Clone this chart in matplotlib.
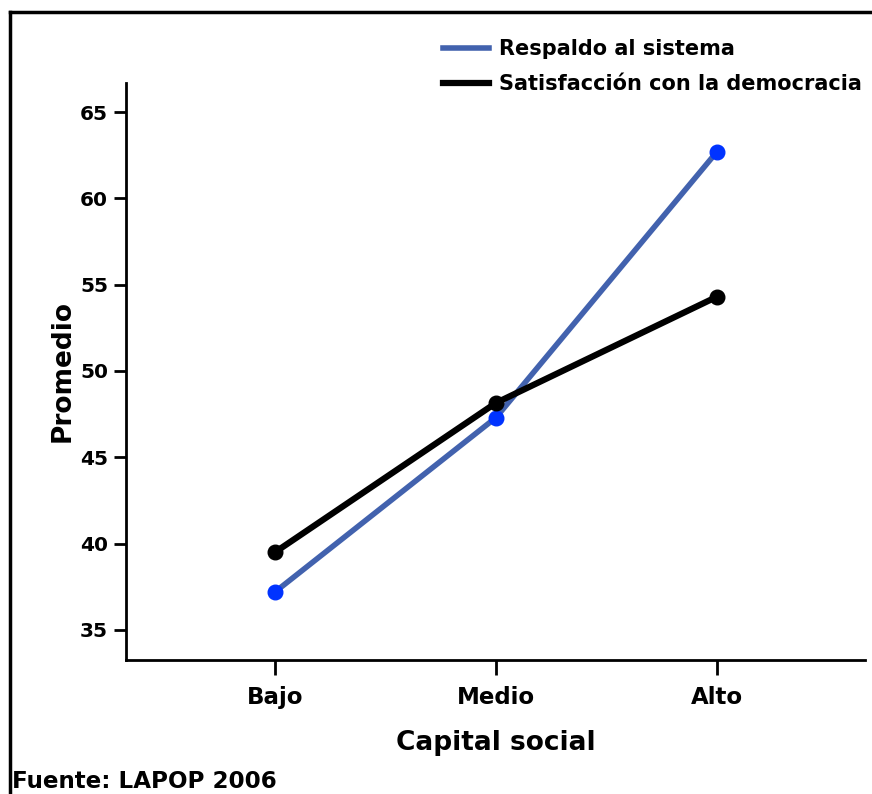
import matplotlib.pyplot as plt
from matplotlib.lines import Line2D

categorias = ['Bajo', 'Medio', 'Alto']
respaldo = [37.2, 47.3, 62.7]
satisfaccion = [39.5, 48.15, 54.3]
yticks = [35, 40, 45, 50, 55, 60, 65]

W, H = 872, 794
fig = plt.figure(figsize=(W/100, H/100), dpi=100)
plt.rcParams['font.family'] = 'DejaVu Sans'
plt.rcParams['font.weight'] = 'bold'

# axes box in pixels: left 126, right 865, top 83, bottom 660
ax = fig.add_axes([126/W, 1-660/H, (865-126)/W, (660-83)/H])

x = range(len(categorias))
ax.plot(x, respaldo, color='#4262ae', lw=4, label='Respaldo al sistema', zorder=2)
ax.plot(x, respaldo, 'o', color='#0033ff', ms=10.5, zorder=3)
ax.plot(x, satisfaccion, color='black', lw=4.5, label='Satisfacción con la democracia', zorder=4)
ax.plot(x, satisfaccion, 'o', color='black', ms=10.5, zorder=5)

ax.set_xlim(-0.674, 2.67)
ax.set_ylim(33.26, 66.68)
ax.set_xticks(list(x))
ax.set_xticklabels(categorias, fontsize=16.5, fontweight='bold')
ax.set_yticks(yticks)
ax.set_yticklabels([str(v) for v in yticks], fontsize=14.5, fontweight='bold')
ax.tick_params(axis='y', length=9, width=2, pad=4)
ax.tick_params(axis='x', length=11, width=2, pad=8)
for s in ['top', 'right']:
    ax.spines[s].set_visible(False)
for s in ['left', 'bottom']:
    ax.spines[s].set_linewidth(2)

ax.set_xlabel('Capital social', fontsize=19, fontweight='bold', labelpad=15)
ax.set_ylabel('Promedio', fontsize=19, fontweight='bold', labelpad=3)

handles = [Line2D([], [], color='#4262ae', lw=4), Line2D([], [], color='black', lw=4.5)]
fig.legend(handles, ['Respaldo al sistema', 'Satisfacción con la democracia'],
           loc='upper left', bbox_to_anchor=(443/W, 1-39/H), frameon=False,
           prop={'size': 15, 'weight': 'bold'}, handlelength=2.2, handletextpad=0.5,
           labelspacing=0.74, borderaxespad=0, borderpad=0)

fig.text(12/W, 1-781/H, 'Fuente: LAPOP 2006', fontsize=16.6, fontweight='bold', va='center', ha='left')

# figure frame (top and left edges visible)
fig.add_artist(Line2D([10/W, 1.0], [1-12/H, 1-12/H], color='black', lw=2.5, transform=fig.transFigure))
fig.add_artist(Line2D([10/W, 10/W], [1-12/H, 0.0], color='black', lw=2.5, transform=fig.transFigure))

fig.savefig('out.png', dpi=100)
